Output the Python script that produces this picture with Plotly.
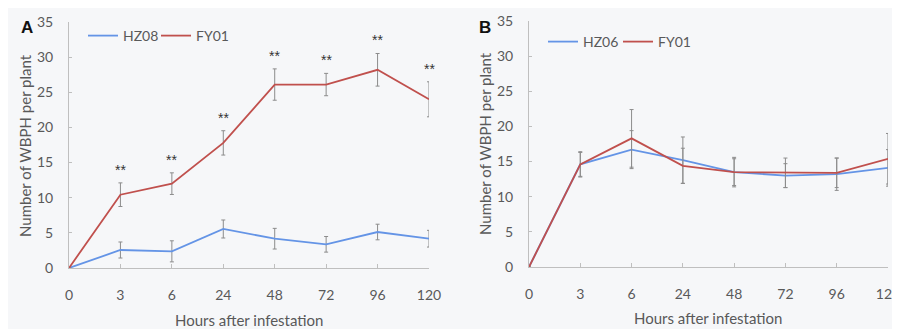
import plotly.graph_objects as go

hours = ["0", "3", "6", "24", "48", "72", "96", "120"]

# Panel A
a_hz08 = [0, 2.56, 2.37, 5.55, 4.17, 3.37, 5.12, 4.17]
a_hz08_err = [None, 1.14, 1.5, 1.28, 1.47, 1.11, 1.11, 1.19]
a_fy01 = [0, 10.43, 12.0, 17.8, 26.1, 26.1, 28.2, 24.0]
a_fy01_err = [None, 1.68, 1.54, 1.73, 2.23, 1.59, 2.32, 2.49]
a_sig = ["", "**", "**", "**", "**", "**", "**", "**"]

# Panel B
b_hz06 = [0, 14.6, 16.7, 15.2, 13.5, 13.0, 13.2, 14.1]
b_hz06_err = [None, 1.7, 2.7, 3.3, 2.1, 1.7, 2.3, 2.6]
b_fy01 = [0, 14.6, 18.3, 14.4, 13.5, 13.4, 13.4, 15.4]
b_fy01_err = [None, 1.8, 4.1, 2.5, 1.9, 2.1, 2.1, 3.6]

BLUE = "#6494E6"
RED = "#C0504D"
ERR = "#8C8C8C"
AXC = "#BFBFBF"
TXT = "#595959"
BG = "#F6F7F9"
FONT = "Lato"
OFF = 8  # page body margin
W, H = 900 - OFF, 329 - OFF

xi = list(range(len(hours)))

def px_x(p):
    return (p - OFF) / W

def px_y(p):
    return 1 - (p - OFF) / H

fig = go.Figure()

def add_series(y, err, color, name, xa, ya, legend):
    fig.add_trace(go.Scatter(
        x=xi, y=y, mode="lines", name=name,
        line=dict(color=color, width=1.8),
        error_y=dict(type="data", array=err, visible=True, color=ERR,
                     thickness=1, width=2),
        xaxis=xa, yaxis=ya, legend=legend,
    ))

def add_spacer(xa, ya, legend):
    # invisible legend entry so the last real entry's text is not clipped
    fig.add_trace(go.Scatter(
        x=[None], y=[None], mode="lines", name=" ",
        line=dict(color="rgba(0,0,0,0)"), hoverinfo="skip",
        xaxis=xa, yaxis=ya, legend=legend,
    ))

add_series(a_hz08, a_hz08_err, BLUE, "HZ08", "x", "y", "legend")
add_series(a_fy01, a_fy01_err, RED, "FY01", "x", "y", "legend")
add_spacer("x", "y", "legend")
add_series(b_hz06, b_hz06_err, BLUE, "HZ06", "x2", "y2", "legend2")
add_series(b_fy01, b_fy01_err, RED, "FY01", "x2", "y2", "legend2")
add_spacer("x2", "y2", "legend2")

# significance stars
for i, s in enumerate(a_sig):
    if s:
        fig.add_annotation(x=xi[i], y=a_fy01[i] + a_fy01_err[i], xref="x", yref="y",
                           text=s, showarrow=False, xanchor="center", yanchor="bottom", yshift=3,
                           font=dict(family="Liberation Sans", size=14, color="#333333"))

xcommon = dict(
    tickmode="array", tickvals=xi, ticktext=hours, range=[0, 7],
    showline=True, linecolor=AXC, linewidth=1, ticks="inside", ticklen=4,
    tickcolor=AXC, showgrid=False, zeroline=False, automargin=False,
    ticklabeloverflow="allow",
    tickfont=dict(family=FONT, size=14, color=TXT), ticklabelstandoff=14,
)
ycommon = dict(
    range=[0, 35], dtick=5, tick0=0,
    showline=True, linecolor=AXC, linewidth=1, ticks="inside", ticklen=3,
    tickcolor=AXC, showgrid=False, zeroline=False, automargin=False,
    ticklabeloverflow="allow",
    tickfont=dict(family=FONT, size=14, color=TXT), ticklabelstandoff=12,
)

fig.update_layout(
    width=W, height=H,
    margin=dict(l=0, r=0, t=0, b=0),
    paper_bgcolor=BG, plot_bgcolor="rgba(0,0,0,0)",
    showlegend=True,
    xaxis=dict(domain=[px_x(69), px_x(429)], anchor="y", **xcommon),
    yaxis=dict(domain=[px_y(268), px_y(22)], anchor="x", **ycommon),
    xaxis2=dict(domain=[px_x(529), px_x(888)], anchor="y2", **xcommon),
    yaxis2=dict(domain=[px_y(267), px_y(21)], anchor="x2", **ycommon),
    legend=dict(orientation="h", x=px_x(83), y=px_y(36), xanchor="left", yanchor="middle",
                bgcolor="rgba(0,0,0,0)", itemwidth=30, entrywidth=28, entrywidthmode="pixels",
                font=dict(family=FONT, size=14, color=TXT)),
    legend2=dict(orientation="h", x=px_x(543), y=px_y(42), xanchor="left", yanchor="middle",
                 bgcolor="rgba(0,0,0,0)", itemwidth=30, entrywidth=30, entrywidthmode="pixels",
                 font=dict(family=FONT, size=14, color=TXT)),
)

# axis titles and panel letters
for (x, y, t) in [(249, 320, "Hours after infestation"), (708, 318, "Hours after infestation")]:
    fig.add_annotation(x=px_x(x), y=px_y(y), xref="paper", yref="paper", text=t,
                       xanchor="center", yanchor="middle",
                       showarrow=False, font=dict(family=FONT, size=15, color=TXT))
for (x, y) in [(25, 146), (485, 144)]:
    fig.add_annotation(x=px_x(x), y=px_y(y), xref="paper", yref="paper",
                       text="Number of WBPH per plant", textangle=-90,
                       xanchor="center", yanchor="middle",
                       showarrow=False, font=dict(family=FONT, size=15, color=TXT))
for (x, y, t) in [(27, 27, "A"), (485, 27, "B")]:
    fig.add_annotation(x=px_x(x), y=px_y(y), xref="paper", yref="paper", text="<b>" + t + "</b>",
                       xanchor="center", yanchor="middle",
                       showarrow=False, font=dict(family="Liberation Sans", size=17, color="#111111"))

fig.write_html("out.html")
